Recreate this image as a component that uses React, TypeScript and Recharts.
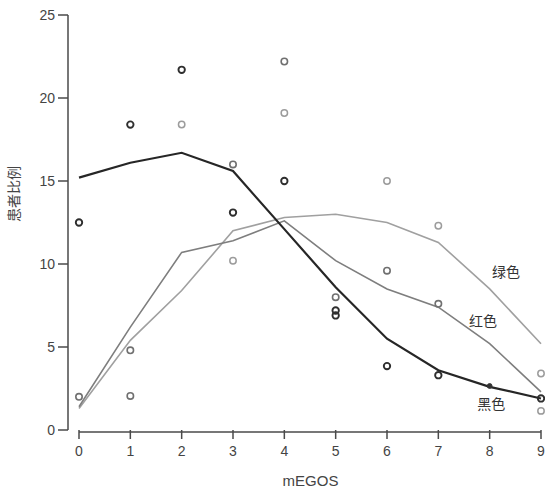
import React from 'react';
import { ComposedChart, Line, Scatter, XAxis, YAxis, ReferenceLine, ReferenceDot } from 'recharts';

const xValues = [0, 1, 2, 3, 4, 5, 6, 7, 8, 9];
const blackLine = [15.2, 16.1, 16.7, 15.6, 12.1, 8.6, 5.5, 3.6, 2.6, 1.9];
const redLine = [1.4, 6.2, 10.7, 11.4, 12.6, 10.2, 8.5, 7.4, 5.2, 2.3];
const greenLine = [1.3, 5.4, 8.4, 12.0, 12.8, 13.0, 12.5, 11.3, 8.5, 5.2];

const darkPoints = [
  { x: 0, y: 12.5 }, { x: 1, y: 18.4 }, { x: 2, y: 21.7 }, { x: 3, y: 13.1 },
  { x: 4, y: 15.0 }, { x: 5, y: 7.2 }, { x: 5, y: 6.9 }, { x: 6, y: 3.85 },
  { x: 7, y: 3.3 }, { x: 9, y: 1.9 },
];
const mediumPoints = [
  { x: 0, y: 2.0 }, { x: 1, y: 4.8 }, { x: 1, y: 2.05 }, { x: 3, y: 16.0 },
  { x: 4, y: 22.2 }, { x: 5, y: 8.0 }, { x: 6, y: 9.6 }, { x: 7, y: 7.6 },
];
const lightPoints = [
  { x: 2, y: 18.4 }, { x: 3, y: 10.2 }, { x: 4, y: 19.1 }, { x: 6, y: 15.0 },
  { x: 7, y: 12.3 }, { x: 9, y: 3.4 }, { x: 9, y: 1.15 },
];
const smallDots = [{ x: 8, y: 2.65 }];

const xTicks = [0, 1, 2, 3, 4, 5, 6, 7, 8, 9];
const yTicks = [0, 5, 10, 15, 20, 25];
const seriesLabels = [
  { text: '绿色', x: 8.32, y: 9.5 },
  { text: '红色', x: 7.87, y: 6.57 },
  { text: '黑色', x: 8.03, y: 1.57 },
];

const lineData = xValues.map((x, i) => ({
  x,
  black: blackLine[i],
  red: redLine[i],
  green: greenLine[i],
}));

const FONT = '"Liberation Sans", Arial, sans-serif';
const AXIS = '#4a4a4a';

const ring = (stroke: string, sw: number) => (props: any) => (
  <circle cx={props.cx} cy={props.cy} r={3.2} fill="none" stroke={stroke} strokeWidth={sw} />
);
const filled = (props: any) => (
  <circle cx={props.cx} cy={props.cy} r={2.4} fill="#333" stroke="#333" />
);

export default function App() {
  return (
    <div style={{ position: 'absolute', left: 0, top: 0, background: '#fff' }}>
      <ComposedChart
        width={545}
        height={489}
        data={lineData}
        margin={{ top: 15, right: 4, bottom: 5, left: 0 }}
      >
        <XAxis
          dataKey="x"
          type="number"
          domain={[0, 9]}
          ticks={xTicks}
          padding={{ left: 11, right: 0 }}
          axisLine={false}
          tickLine={{ stroke: AXIS, strokeWidth: 1.5 }}
          tickSize={9}
          tickMargin={7}
          height={54}
          tick={{ fontSize: 14, fill: '#444', fontFamily: FONT }}
          label={{
            content: (p: any) => {
              const vb = p.viewBox;
              return (
                <text
                  x={vb.x + vb.width / 2 + 6}
                  y={vb.y + vb.height + 2}
                  textAnchor="middle"
                  fontSize={15}
                  fill="#444"
                  fontFamily={FONT}
                >
                  mEGOS
                </text>
              );
            },
          }}
        />
        <YAxis
          type="number"
          domain={[0, 25]}
          ticks={yTicks}
          width={68}
          axisLine={{ stroke: AXIS, strokeWidth: 1.5 }}
          tickLine={{ stroke: AXIS, strokeWidth: 1.5 }}
          tickSize={10}
          tickMargin={3}
          tick={{ fontSize: 14, fill: '#444', fontFamily: FONT }}
          label={{
            content: () => (
              <text
                x={19}
                y={194}
                transform="rotate(-90 19 194)"
                textAnchor="middle"
                fontSize={14}
                fill="#444"
                fontFamily='"Noto Sans CJK SC", sans-serif'
              >
                患者比例
              </text>
            ),
          }}
        />
        <ReferenceLine
          segment={[{ x: 0, y: -0.12 }, { x: 9, y: -0.12 }]}
          stroke={AXIS}
          strokeWidth={1.5}
          ifOverflow="visible"
        />
        <Line type="linear" dataKey="green" stroke="#a0a0a0" strokeWidth={1.6} dot={false} isAnimationActive={false} />
        <Line type="linear" dataKey="red" stroke="#7e7e7e" strokeWidth={1.6} dot={false} isAnimationActive={false} />
        <Line type="linear" dataKey="black" stroke="#262626" strokeWidth={2.2} dot={false} isAnimationActive={false} />
        <Scatter data={lightPoints} dataKey="y" shape={ring('#9c9c9c', 1.5)} isAnimationActive={false} />
        <Scatter data={mediumPoints} dataKey="y" shape={ring('#707070', 1.6)} isAnimationActive={false} />
        <Scatter data={darkPoints} dataKey="y" shape={ring('#2e2e2e', 1.9)} isAnimationActive={false} />
        <Scatter data={smallDots} dataKey="y" shape={filled} isAnimationActive={false} />
        {seriesLabels.map((l) => (
          <ReferenceDot
            key={l.text}
            x={l.x}
            y={l.y}
            r={0}
            fill="none"
            stroke="none"
            ifOverflow="visible"
            label={{
              value: l.text,
              position: 'center',
              fontSize: 14,
              fill: '#333',
              fontFamily: '"Noto Sans CJK SC", sans-serif',
            }}
          />
        ))}
      </ComposedChart>
    </div>
  );
}
